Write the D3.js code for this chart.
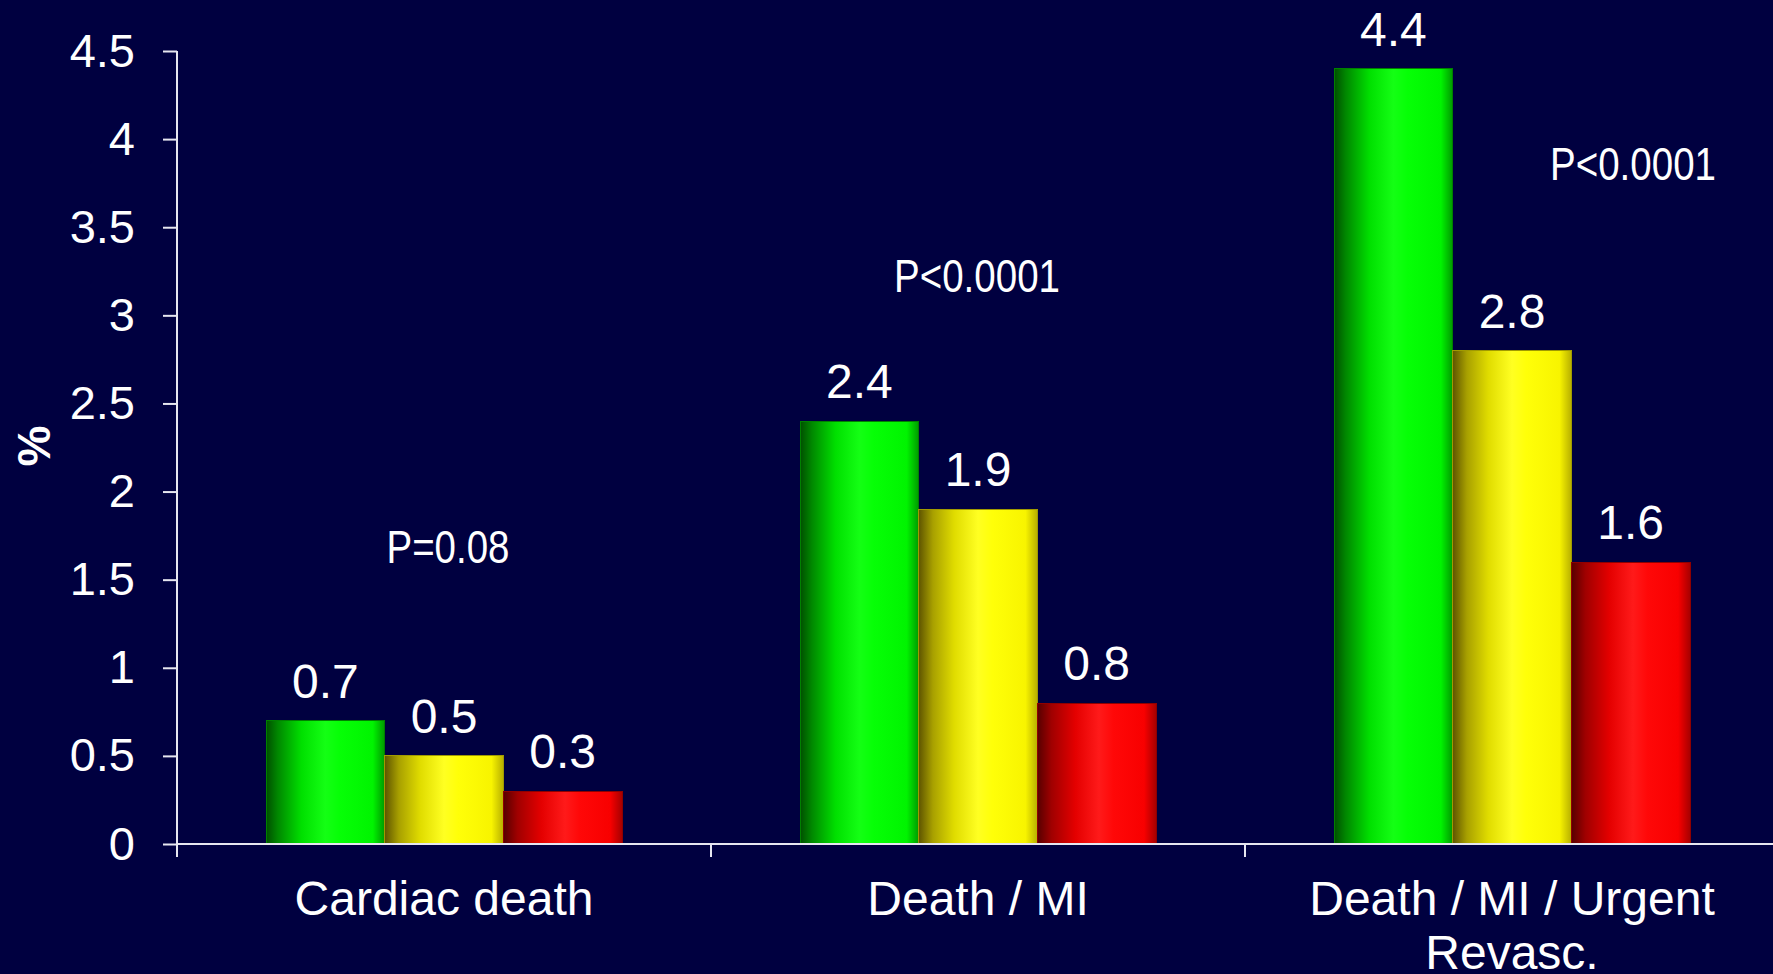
<!DOCTYPE html>
<html>
<head>
<meta charset="utf-8">
<script src="https://cdn.jsdelivr.net/npm/d3@7"></script>
<style>
  html, body { margin: 0; padding: 0; background: #000040; }
  svg { display: block; }
  text { font-family: "Liberation Sans", Arial, Helvetica, sans-serif; fill: #ffffff; }
</style>
</head>
<body>
<script>
// Outcome categories (x axis), one line per array entry
const categories = ["Cardiac death", "Death / MI", "Death / MI / Urgent Revasc."];
const categoryLines = [["Cardiac death"], ["Death / MI"], ["Death / MI / Urgent", "Revasc."]];

// Event rates (%) for the three groups
const greenValues  = [0.7, 2.4, 4.4];
const yellowValues = [0.5, 1.9, 2.8];
const redValues    = [0.3, 0.8, 1.6];

// Y axis ticks
const yTicks = [0, 0.5, 1, 1.5, 2, 2.5, 3, 3.5, 4, 4.5];

// P-value annotation per category
const pValues = ["P=0.08", "P<0.0001", "P<0.0001"];

const W = 1773, H = 974;
const svg = d3.select("body").append("svg").attr("width", W).attr("height", H);

svg.append("rect").attr("width", W).attr("height", H).attr("fill", "#000040");

const x0 = 177, bandW = 534;
const x = d3.scaleBand().domain(categories).range([x0, x0 + bandW * categories.length]).padding(0);
const seriesKeys = ["green", "yellow", "red"];
const xs = d3.scaleBand().domain(seriesKeys).range([bandW / 6, bandW * 5 / 6]).padding(0);
const y = d3.scaleLinear().domain([0, 4.5]).range([844, 51]);

// Cylinder-like horizontal shading for each series
const defs = svg.append("defs");
const gradients = {
  green: [[0, "#004e00"], [0.1, "#008800"], [0.3, "#00e000"], [0.5, "#14ff14"], [0.62, "#06ff06"], [0.9, "#00f400"], [1, "#009a00"]],
  yellow: [[0, "#5e5400"], [0.12, "#a8a000"], [0.3, "#e0dc00"], [0.5, "#ffff22"], [0.62, "#ffff08"], [0.9, "#f8f400"], [1, "#b8b000"]],
  red: [[0, "#560000"], [0.12, "#a00000"], [0.32, "#e40000"], [0.52, "#ff1a1a"], [0.64, "#ff0808"], [0.9, "#f80000"], [1, "#a80000"]]
};
seriesKeys.forEach(k => {
  const g = defs.append("linearGradient").attr("id", "grad-" + k)
    .attr("x1", "0").attr("x2", "1").attr("y1", "0").attr("y2", "0");
  gradients[k].forEach(([o, c]) => g.append("stop").attr("offset", o).attr("stop-color", c));
});
const edgeColor = { green: "#008000", yellow: "#a09a00", red: "#900000" };

const rows = categories.map((c, i) => ({
  category: c,
  values: [
    { key: "green", value: greenValues[i] },
    { key: "yellow", value: yellowValues[i] },
    { key: "red", value: redValues[i] }
  ]
}));

// Bars
const groups = svg.append("g").selectAll("g").data(rows).join("g")
  .attr("transform", d => `translate(${x(d.category)},0)`);

groups.selectAll("rect").data(d => d.values).join("rect")
  .attr("x", d => xs(d.key))
  .attr("y", d => y(d.value))
  .attr("width", xs.bandwidth())
  .attr("height", d => y(0) - y(d.value))
  .attr("fill", d => `url(#grad-${d.key})`)
  .attr("stroke", d => edgeColor[d.key])
  .attr("stroke-width", 1)
  .attr("shape-rendering", "crispEdges");

// Value labels above bars
groups.selectAll("text.val").data(d => d.values).join("text")
  .attr("class", "val")
  .attr("x", d => xs(d.key) + xs.bandwidth() / 2)
  .attr("y", d => y(d.value) - 23)
  .attr("text-anchor", "middle")
  .attr("font-size", 48)
  .text(d => d3.format(".1f")(d.value));

// Y axis
const yAxis = d3.axisLeft(y).tickValues(yTicks).tickSize(14).tickPadding(28).tickFormat(d3.format("~g"));
const gy = svg.append("g").attr("transform", `translate(${x0},0)`).call(yAxis);
gy.select(".domain").attr("stroke", "#e6e6f0").attr("stroke-width", 2).attr("d", `M0,${y(4.5)}V${y(0)}`);
gy.selectAll(".tick line").attr("stroke", "#e6e6f0").attr("stroke-width", 2);
gy.selectAll(".tick text").attr("font-size", 47).attr("fill", "#ffffff")
  .attr("font-family", "'Liberation Sans', Arial, sans-serif");

// X axis line with ticks at category boundaries
const gx = svg.append("g");
gx.append("line").attr("x1", x0).attr("x2", W + 10).attr("y1", y(0)).attr("y2", y(0))
  .attr("stroke", "#e6e6f0").attr("stroke-width", 2);
const boundaries = categories.map(c => x(c));
gx.selectAll("line.tick").data(boundaries).join("line").attr("class", "tick")
  .attr("x1", d => d).attr("x2", d => d).attr("y1", y(0)).attr("y2", y(0) + 13)
  .attr("stroke", "#e6e6f0").attr("stroke-width", 2);

// Category labels
const catText = gx.selectAll("text.cat").data(categories).join("text").attr("class", "cat")
  .attr("text-anchor", "middle").attr("font-size", 48)
  .attr("transform", c => `translate(${x(c) + x.bandwidth() / 2},915)`);
catText.selectAll("tspan").data((c, i) => categoryLines[i]).join("tspan")
  .attr("x", 0).attr("dy", (d, i) => i === 0 ? 0 : 54).text(d => d);

// Y axis title
svg.append("text").attr("transform", "translate(50,446) rotate(-90)")
  .attr("text-anchor", "middle").attr("font-size", 46).attr("font-weight", "bold").text("%");

// P-value annotations (narrow type)
const pLayout = [
  { dx: 4, baseline: 563, len: 123 },
  { dx: -1, baseline: 292, len: 166 },
  { dx: 121, baseline: 180, len: 166 }
];
svg.append("g").selectAll("text").data(pValues).join("text")
  .attr("x", (d, i) => x(categories[i]) + x.bandwidth() / 2 + pLayout[i].dx - pLayout[i].len / 2)
  .attr("y", (d, i) => pLayout[i].baseline)
  .attr("font-size", 46)
  .attr("textLength", (d, i) => pLayout[i].len)
  .attr("lengthAdjust", "spacingAndGlyphs")
  .text(d => d);
</script>
</body>
</html>
